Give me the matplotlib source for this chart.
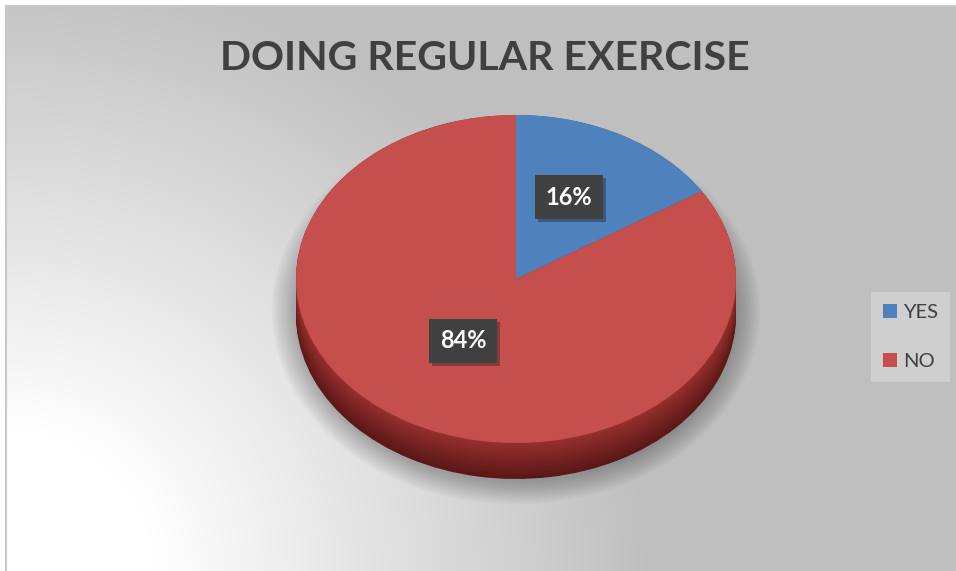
import numpy as np
import matplotlib
matplotlib.use('Agg')
from matplotlib import pyplot as plt
from matplotlib.patches import Ellipse
from matplotlib.colors import to_rgb
import matplotlib.patheffects as pe

plt.rcParams['font.family'] = ['Lato', 'DejaVu Sans']

labels = ['YES', 'NO']
shares = [16, 84]
top_colors = ['#4f81bd', '#c44f4d']
side_top = ['#3b6291', '#97302e']
side_bottom = ['#27425f', '#5a1816']

W, H = 956, 571
fig = plt.figure(figsize=(W / 100, H / 100), dpi=100)
fig.patch.set_facecolor('white')

# grey backdrop, brightening towards the lower left corner
bg = fig.add_axes([6 / W, 0, (W - 6) / W, (H - 6) / H])
yy, xx = np.mgrid[0:H - 6, 0:W - 6]
dist = np.hypot(xx * 0.95, (H - 7) - yy)
t = np.clip(1 - (dist - 140) / 470, 0, 1)
shade = 0.75 + 0.25 * t
bg.imshow(np.dstack([shade] * 3), aspect='auto', interpolation='bilinear')
bg.set_xticks([])
bg.set_yticks([])
for side in ['right', 'bottom']:
    bg.spines[side].set_visible(False)
for side in ['left', 'top']:
    bg.spines[side].set_color('#c8c8c8')
    bg.spines[side].set_linewidth(1.5)

# pie axes: one data unit = radius of the top face
cx, cy = 516, 279
rx, ry = 220, 164
depth = 36 / ry
ax = fig.add_axes([0, 0, 1, 1])
ax.patch.set_visible(False)

# soft drop shadow under the disc
for k in range(12):
    ax.add_patch(Ellipse((0, -depth * 0.9), 2 * (1.0 + 0.01 * k), 2 * (1.0 + 0.012 * k) + depth * 0.4,
                         facecolor='black', edgecolor='none', alpha=0.025, zorder=0))

# side of the disc, stacked layers going darker towards the bottom
n = 20
for i, off in enumerate(np.linspace(depth, 0, n)):
    f = i / (n - 1)
    cols = [tuple(np.array(to_rgb(b)) * (1 - f) + np.array(to_rgb(a)) * f)
            for a, b in zip(side_top, side_bottom)]
    ax.pie(shares, colors=cols, startangle=90, counterclock=False, radius=1,
           center=(0, -off), wedgeprops=dict(linewidth=0), frame=True)

wedges, _, autotexts = ax.pie(
    shares, colors=top_colors, startangle=90, counterclock=False, radius=1,
    autopct=lambda p: f'{p:.0f}%', pctdistance=0.5, frame=True,
    wedgeprops=dict(linewidth=0),
    textprops=dict(color='white', fontsize=17, fontweight='bold'))
for txt in autotexts:
    x, y = txt.get_position()
    txt.set_position((x, y + 10 / ry))
    txt.set_bbox(dict(boxstyle='square,pad=0.45', facecolor='#404040', edgecolor='none'))
    txt.get_bbox_patch().set_path_effects(
        [pe.SimplePatchShadow(offset=(2, -2), alpha=0.35), pe.Normal()])

ax.set_aspect('auto')
ax.set_xlim(-cx / rx, (W - cx) / rx)
ax.set_ylim(-(H - cy) / ry, cy / ry)
ax.axis('off')

fig.text(485 / W, 1 - 59 / H, 'DOING REGULAR EXERCISE', ha='center', va='center',
         fontsize=29.5, fontweight='bold', color='#404040')

leg = fig.legend(wedges, labels, loc='center left', bbox_to_anchor=(871 / W, 1 - 337 / H),
                 frameon=True, fancybox=False, fontsize=14.5, handlelength=0.7, handleheight=0.7,
                 handletextpad=0.3, labelspacing=1.55, borderpad=0.6, borderaxespad=0)
leg.get_frame().set_facecolor('#d4d4d4')
leg.get_frame().set_edgecolor('none')
for txt in leg.get_texts():
    txt.set_color('#404040')

fig.savefig('out.png', dpi=100)
